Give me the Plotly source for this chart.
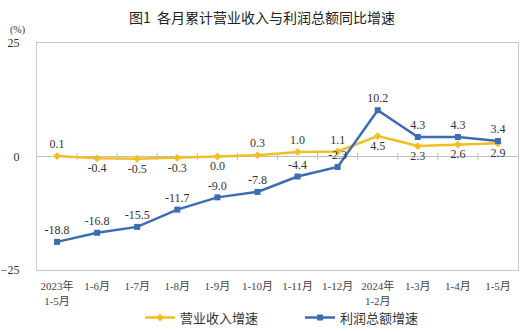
import plotly.graph_objects as go

categories = ["2023年<br>1-5月", "1-6月", "1-7月", "1-8月", "1-9月", "1-10月", "1-11月",
              "1-12月", "2024年<br>1-2月", "1-3月", "1-4月", "1-5月"]
revenue = [0.1, -0.4, -0.5, -0.3, 0.0, 0.3, 1.0, 1.1, 4.5, 2.3, 2.6, 2.9]
profit = [-18.8, -16.8, -15.5, -11.7, -9.0, -7.8, -4.4, -2.3, 10.2, 4.3, 4.3, 3.4]
rev_pos = ["top center", "bottom center", "bottom center", "bottom center", "bottom center",
           "top center", "top center", "top center", "bottom center", "bottom center",
           "bottom center", "bottom center"]
prof_pos = ["top center"] * 12
y_ticks = [-25, 0, 25]

xs = list(range(len(categories)))
serif = "Liberation Serif, Noto Sans CJK SC"
yellow = "#F2BE22"
blue = "#3B6CB4"

fig = go.Figure()
fig.add_trace(go.Scatter(
    x=xs, y=revenue, name="营业收入增速", mode="lines+markers+text", legend="legend",
    line=dict(color=yellow, width=2.5), marker=dict(color=yellow, size=6, symbol="diamond"),
    text=[f"{v:.1f}" for v in revenue], textposition=rev_pos,
    textfont=dict(family=serif, size=12, color="#333333"), cliponaxis=False))
fig.add_trace(go.Scatter(
    x=xs, y=profit, name="利润总额增速", mode="lines+markers+text", legend="legend2",
    line=dict(color=blue, width=2.5), marker=dict(color=blue, size=6, symbol="square"),
    text=[f"{v:.1f}" for v in profit], textposition=prof_pos,
    textfont=dict(family=serif, size=12, color="#333333"), cliponaxis=False))
# small tick marks on the zero line between categories
fig.add_trace(go.Scatter(
    x=[i + 0.5 for i in xs[:-1]], y=[0] * (len(xs) - 1), mode="markers", showlegend=False,
    hoverinfo="skip",
    marker=dict(symbol="line-ns-open", size=5, color="#BFBFBF", line=dict(color="#BFBFBF", width=1))))

leg_common = dict(orientation="h", yanchor="middle", y=-0.21, xanchor="left",
                  font=dict(family=serif, size=13, color="#333333"), itemwidth=30,
                  bgcolor="rgba(0,0,0,0)")
fig.update_layout(
    width=524, height=332,
    margin=dict(l=37, r=6, t=43, b=62, autoexpand=False),
    paper_bgcolor="white", plot_bgcolor="white",
    title=dict(text="图1  各月累计营业收入与利润总额同比增速", x=0.5, xanchor="center",
               y=0.945, yanchor="middle",
               font=dict(family="Noto Sans CJK SC", size=14, color="#222222")),
    showlegend=True,
    legend=dict(x=(140 - 37) / 481, **leg_common),
    legend2=dict(x=(300 - 37) / 481, **leg_common),
    font=dict(family=serif, color="#333333"),
)
fig.update_xaxes(
    range=[-0.5, 11.5], tickvals=xs, ticktext=categories, showgrid=False,
    zeroline=False, showline=True, mirror=True, linecolor="#C8C8C8", linewidth=1,
    tickfont=dict(family=serif, size=11, color="#444444"), ticks="", automargin=False,
    ticklabelstandoff=6)
fig.update_yaxes(
    range=[-25, 25], tickvals=y_ticks, showgrid=False,
    zeroline=True, zerolinecolor="#BFBFBF", zerolinewidth=1,
    showline=True, mirror=True, linecolor="#C8C8C8", linewidth=1, automargin=False,
    tickfont=dict(family=serif, size=12, color="#333333"), ticks="", ticklabelstandoff=14)
fig.add_annotation(text="(%)", xref="paper", yref="paper", x=-0.04, y=1.02,
                   xanchor="center", yanchor="bottom", showarrow=False,
                   font=dict(family=serif, size=10, color="#333333"))

fig.write_html("out.html")
